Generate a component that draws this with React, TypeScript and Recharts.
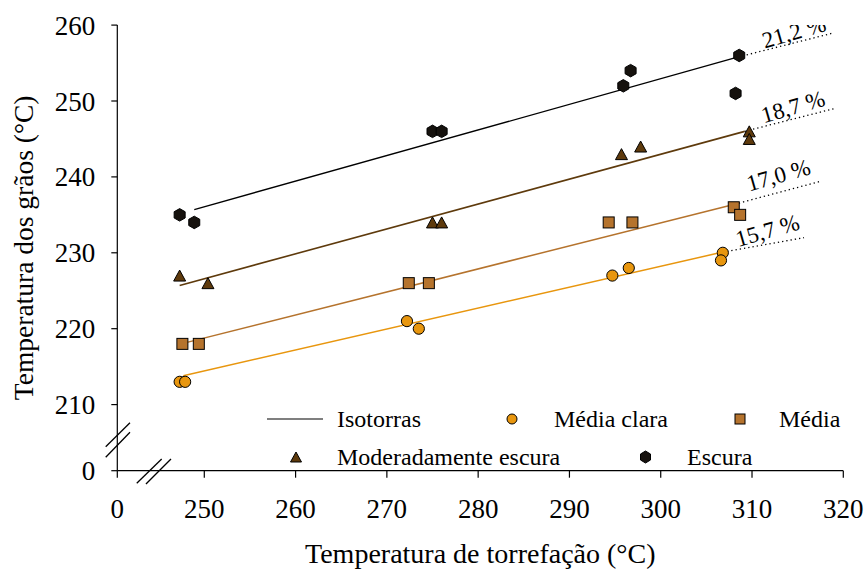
import React from 'react';
import {
  ComposedChart,
  XAxis,
  YAxis,
  Scatter,
  Line,
  ReferenceLine,
  Legend,
  Label,
} from 'recharts';

const SERIF = 'Liberation Serif';

// Broken axes: the "0" tick sits just below/left of the break.
const X_ZERO = 240.47;
const Y_ZERO = 201.29;

const xTicks = [X_ZERO, 250, 260, 270, 280, 290, 300, 310, 320];
const yTicks = [Y_ZERO, 210, 220, 230, 240, 250, 260];

// Grain temperature (°C) vs. roasting temperature (°C) per roast degree
const mediaClara = [
  { x: 247.3, y: 213 }, { x: 247.9, y: 213 },
  { x: 272.2, y: 221 }, { x: 273.5, y: 220 },
  { x: 294.7, y: 227 }, { x: 296.5, y: 228 },
  { x: 306.8, y: 230 }, { x: 306.6, y: 229 },
];
const media = [
  { x: 247.6, y: 218 }, { x: 249.4, y: 218 },
  { x: 272.4, y: 226 }, { x: 274.6, y: 226 },
  { x: 294.3, y: 234 }, { x: 296.9, y: 234 },
  { x: 308.0, y: 236 }, { x: 308.7, y: 235 },
];
const moderada = [
  { x: 247.3, y: 227 }, { x: 250.4, y: 226 },
  { x: 275.0, y: 234 }, { x: 276.0, y: 234 },
  { x: 295.7, y: 243 }, { x: 297.8, y: 244 },
  { x: 309.7, y: 246 }, { x: 309.7, y: 245 },
];
const escura = [
  { x: 247.3, y: 235 }, { x: 248.9, y: 234 },
  { x: 275.0, y: 246 }, { x: 276.0, y: 246 },
  { x: 295.9, y: 252 }, { x: 296.7, y: 254 },
  { x: 308.6, y: 256 }, { x: 308.2, y: 251 },
];

// Isotorras (constant-moisture lines) and their dotted extensions
const isoMediaClara = [{ x: 247.7, y: 213.8 }, { x: 306.8, y: 230.1 }];
const isoMedia = [{ x: 248.1, y: 218.2 }, { x: 308.1, y: 236.4 }];
const isoModerada = [{ x: 247.3, y: 225.7 }, { x: 309.2, y: 246.0 }];
const isoEscura = [{ x: 248.9, y: 235.7 }, { x: 308.5, y: 255.8 }];

const extMediaClara = [{ x: 306.8, y: 230.1 }, { x: 315.7, y: 232.0 }];
const extMedia = [{ x: 308.1, y: 236.4 }, { x: 317.45, y: 239.4 }];
const extModerada = [{ x: 309.2, y: 246.0 }, { x: 319.0, y: 249.0 }];
const extEscura = [{ x: 308.5, y: 255.8 }, { x: 318.7, y: 258.9 }];

const moistureLabels = [
  { x: 311.7, y: 232.9, text: '15,7 %' },
  { x: 312.9, y: 240.2, text: '17,0 %' },
  { x: 314.5, y: 249.2, text: '18,7 %' },
  { x: 314.6, y: 259.05, text: '21,2 %' },
];

const legendNames = ['Isotorras', 'Média clara', 'Média', 'Moderadamente escura', 'Escura'];

const C_CLARA = '#E8960E';
const C_MEDIA = '#B5732D';
const C_MODERADA = '#5E3A0C';
const C_ESCURA = '#16120E';

// Axis break slashes (data units)
const yBreak = [
  [{ x: 239.2, y: 204.45 }, { x: 241.86, y: 207.61 }],
  [{ x: 239.2, y: 203.06 }, { x: 241.86, y: 206.35 }],
];
const xBreak = [
  [{ x: 242.6, y: 199.63 }, { x: 245.33, y: 202.83 }],
  [{ x: 243.61, y: 199.54 }, { x: 246.35, y: 202.83 }],
];

const CircleMark = ({ cx, cy, r = 5.6 }: any) => (
  <circle cx={cx} cy={cy} r={r} fill={C_CLARA} stroke="#000" strokeWidth={1} />
);
const SquareMark = ({ cx, cy, s = 11 }: any) => (
  <rect x={cx - s / 2} y={cy - s / 2} width={s} height={s} fill={C_MEDIA} stroke="#000" strokeWidth={1} />
);
const TriangleMark = ({ cx, cy, w = 12, h = 11 }: any) => (
  <polygon
    points={`${cx},${cy - h / 2} ${cx + w / 2},${cy + h / 2} ${cx - w / 2},${cy + h / 2}`}
    fill={C_MODERADA}
    stroke="#000"
    strokeWidth={1}
  />
);
const HexMark = ({ cx, cy, w = 11, h = 12.5 }: any) => (
  <polygon
    points={`${cx},${cy - h / 2} ${cx + w / 2},${cy - h / 4} ${cx + w / 2},${cy + h / 4} ${cx},${cy + h / 2} ${cx - w / 2},${cy + h / 4} ${cx - w / 2},${cy - h / 4}`}
    fill={C_ESCURA}
    stroke="#000"
    strokeWidth={1}
  />
);

const MoistureText = ({ cx, cy, payload }: any) => (
  <text
    x={cx}
    y={cy}
    transform={`rotate(-16 ${cx} ${cy})`}
    textAnchor="middle"
    dominantBaseline="central"
    style={{ fontFamily: SERIF, fontSize: 23, fill: '#000' }}
  >
    {payload.text}
  </text>
);

const renderLegend = () => {
  const t = { style: { fontFamily: SERIF, fontSize: 24, fill: '#000' } };
  return (
    <svg
      width={868}
      height={569}
      style={{ position: 'absolute', left: 0, top: 0, overflow: 'visible', pointerEvents: 'none' }}
    >
      <line x1={267} y1={419} x2={323} y2={419} stroke="#000" strokeWidth={1.2} />
      <text x={337} y={427} {...t}>{legendNames[0]}</text>
      <CircleMark cx={512} cy={419} r={5} />
      <text x={554} y={427} {...t}>{legendNames[1]}</text>
      <SquareMark cx={740} cy={419} s={10} />
      <text x={779} y={427} {...t}>{legendNames[2]}</text>
      <TriangleMark cx={296} cy={457} w={11} h={10} />
      <text x={337} y={465} {...t}>{legendNames[3]}</text>
      <HexMark cx={645.5} cy={457} w={10} h={12} />
      <text x={687} y={465} {...t}>{legendNames[4]}</text>
    </svg>
  );
};

const renderXTitle = (props: any) => {
  const vb = props.viewBox;
  return (
    <text
      x={vb.x + vb.width / 2}
      y={vb.y + 92.5}
      textAnchor="middle"
      style={{ fontFamily: SERIF, fontSize: 28, fill: '#000' }}
    >
      Temperatura de torrefação (°C)
    </text>
  );
};

const renderYTitle = (props: any) => {
  const vb = props.viewBox;
  const cx = 33;
  const cy = vb.y + vb.height / 2;
  return (
    <text
      x={cx}
      y={cy}
      transform={`rotate(-90 ${cx} ${cy})`}
      textAnchor="middle"
      style={{ fontFamily: SERIF, fontSize: 27.5, fill: '#000' }}
    >
      Temperatura dos grãos (°C)
    </text>
  );
};

const fmtX = (v: number) => (v === X_ZERO ? '0' : String(v));
const fmtY = (v: number) => (v === Y_ZERO ? '0' : String(v));

export default function App() {
  const tickStyle = { fill: '#000', fontSize: 27, fontFamily: SERIF, style: { fontFamily: SERIF } };
  return (
    <div style={{ position: 'absolute', left: 0, top: 0, width: 868, height: 569, background: '#fff', fontFamily: SERIF }}>
      <ComposedChart
        width={868}
        height={569}
        margin={{ top: 25.1, right: 24.7, bottom: 0, left: 0 }}
        style={{ fontFamily: SERIF }}
      >
        <XAxis
          type="number"
          dataKey="x"
          domain={[X_ZERO, 320]}
          ticks={xTicks}
          interval={0}
          allowDataOverflow
          tickFormatter={fmtX}
          height={98.3}
          tickSize={7}
          tickMargin={21}
          tick={tickStyle}
          axisLine={{ stroke: '#000', strokeWidth: 1.2 }}
          tickLine={{ stroke: '#000', strokeWidth: 1.2 }}
        >
          <Label content={renderXTitle} />
        </XAxis>
        <YAxis
          type="number"
          dataKey="y"
          domain={[Y_ZERO, 260]}
          ticks={yTicks}
          interval={0}
          allowDataOverflow
          tickFormatter={fmtY}
          width={117.3}
          tickSize={6}
          tickMargin={16}
          tick={tickStyle}
          axisLine={{ stroke: '#000', strokeWidth: 1.2 }}
          tickLine={{ stroke: '#000', strokeWidth: 1.2 }}
        >
          <Label content={renderYTitle} />
        </YAxis>

        {yBreak.concat(xBreak).map((seg, i) => (
          <ReferenceLine key={`brk${i}`} segment={seg} ifOverflow="visible" stroke="#000" strokeWidth={1.3} />
        ))}

        <Line data={isoEscura} dataKey="y" stroke="#000" strokeWidth={1.3} dot={false} isAnimationActive={false} />
        <Line data={isoModerada} dataKey="y" stroke={C_MODERADA} strokeWidth={1.6} dot={false} isAnimationActive={false} />
        <Line data={isoMedia} dataKey="y" stroke={C_MEDIA} strokeWidth={1.5} dot={false} isAnimationActive={false} />
        <Line data={isoMediaClara} dataKey="y" stroke={C_CLARA} strokeWidth={1.5} dot={false} isAnimationActive={false} />

        {[extEscura, extModerada, extMedia, extMediaClara].map((d, i) => (
          <Line
            key={`ext${i}`}
            data={d}
            dataKey="y"
            stroke="#000"
            strokeWidth={1.3}
            strokeDasharray="1.3 3"
            dot={false}
            isAnimationActive={false}
          />
        ))}

        <Scatter data={mediaClara} shape={(p: any) => <CircleMark cx={p.cx} cy={p.cy} />} isAnimationActive={false} />
        <Scatter data={media} shape={(p: any) => <SquareMark cx={p.cx} cy={p.cy} />} isAnimationActive={false} />
        <Scatter data={moderada} shape={(p: any) => <TriangleMark cx={p.cx} cy={p.cy} />} isAnimationActive={false} />
        <Scatter data={escura} shape={(p: any) => <HexMark cx={p.cx} cy={p.cy} />} isAnimationActive={false} />

        <Scatter data={moistureLabels} shape={(p: any) => <MoistureText {...p} />} isAnimationActive={false} />

        <Legend
          content={renderLegend}
          wrapperStyle={{ position: 'absolute', left: 0, top: 0, width: 868, height: 0, margin: 0, padding: 0 }}
        />
      </ComposedChart>
    </div>
  );
}
